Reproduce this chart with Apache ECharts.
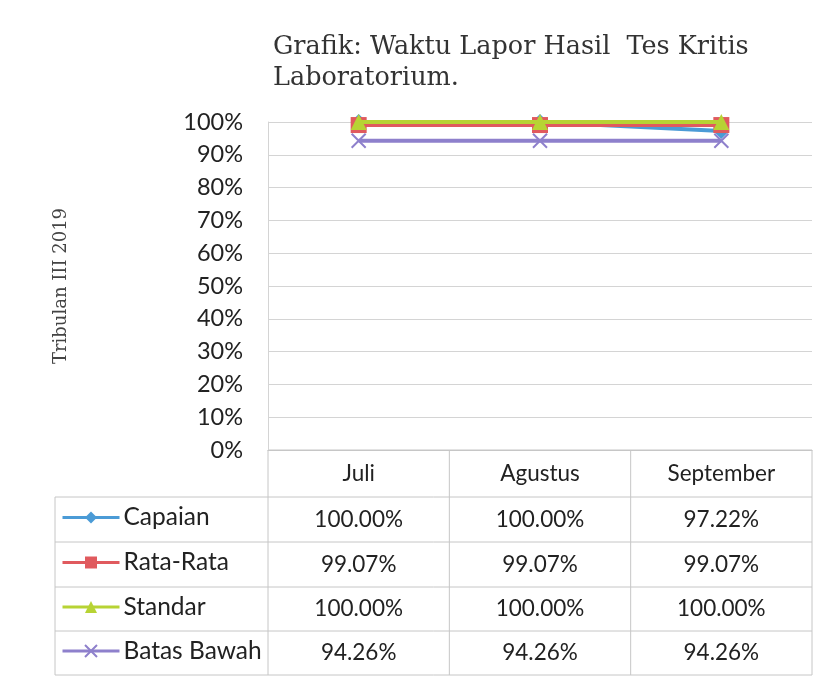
<!DOCTYPE html>
<html>
<head>
<meta charset="utf-8">
<script src="https://cdn.jsdelivr.net/npm/echarts@6/dist/echarts.min.js"></script>
<style>
html,body{margin:0;padding:0;background:#fff;}
#chart{width:829px;height:687px;}
</style>
</head>
<body>
<div id="chart"></div>
<script>
const categories = ['Juli', 'Agustus', 'September'];
const seriesNames = ['Capaian', 'Rata-Rata', 'Standar', 'Batas Bawah'];
const capaian = [100, 100, 97.22];
const rataRata = [99.07, 99.07, 99.07];
const standar = [100, 100, 100];
const batasBawah = [94.26, 94.26, 94.26];
const yMin = 0, yMax = 100, yInterval = 10;
const titleText = 'Grafik: Waktu Lapor Hasil  Tes Kritis\nLaboratorium.';
const yAxisName = 'Tribulan III 2019';

const colors = ['#4b9bd6', '#e05a5e', '#b7d334', '#8e80cc'];
const L = 268, R = 812, T = 122, B = 450;
const rowEdges = [450, 497, 542, 587, 631, 675];
const tableLeft = 55;
const font = 'Lato, "Open Sans", sans-serif';
const lineColor = '#c6c6c6';
const fs = 22.5;

const chart = echarts.init(document.getElementById('chart'));
const allData = [capaian, rataRata, standar, batasBawah];
const symbols = ['diamond', 'rect', 'triangle', 'path://M0,0L10,10M10,0L0,10'];

chart.setOption({
  animation: false,
  backgroundColor: '#fff',
  title: {
    text: titleText,
    left: 268, top: 27,
    textStyle: { fontFamily: '"DejaVu Serif", serif', fontSize: 25.5, fontWeight: 'normal', color: '#333', lineHeight: 31 }
  },
  legend: seriesNames.map((n, r) => ({
    orient: 'vertical',
    padding: 0,
    left: 61, top: (rowEdges[r + 1] + rowEdges[r + 2]) / 2 - 16.5,
    itemWidth: 57, itemHeight: 15,
    data: [n],
    lineStyle: { width: 3 },
    textStyle: { fontFamily: font, fontSize: 24.5, color: '#222', lineHeight: 29, padding: [0, 0, 0, -1] }
  })),
  grid: { left: L, right: 829 - R, top: T, bottom: 687 - B },
  xAxis: {
    type: 'category',
    data: categories,
    boundaryGap: true,
    axisLine: { show: true, lineStyle: { color: lineColor } },
    axisTick: { show: false },
    axisLabel: { margin: 12, fontFamily: font, fontSize: fs, color: '#222' }
  },
  yAxis: {
    type: 'value',
    min: yMin, max: yMax, interval: yInterval,
    name: yAxisName,
    nameLocation: 'middle',
    nameRotate: 90,
    nameGap: 198,
    nameTextStyle: { fontFamily: '"DejaVu Serif", serif', fontSize: 18, color: '#444' },
    axisLine: { show: true, lineStyle: { color: '#d4d4d4' } },
    axisTick: { show: false },
    axisLabel: { formatter: '{value}%', margin: 25, fontFamily: font, fontSize: 23.5, color: '#222' },
    splitLine: { show: true, lineStyle: { color: '#d4d4d4', width: 1 } }
  },
  series: seriesNames.map((n, i) => ({
    name: n,
    type: 'line',
    data: allData[i],
    symbol: symbols[i],
    symbolSize: i === 3 ? 14 : 16,
    lineStyle: { color: colors[i], width: 4 },
    itemStyle: { color: colors[i], borderColor: colors[i], borderWidth: i === 3 ? 2 : 0 },
    z: 2 + i
  }))
});

const graphics = [];
rowEdges.forEach((y, k) => {
  graphics.push({ type: 'line', shape: { x1: k === 0 ? L : tableLeft, y1: y, x2: R, y2: y }, style: { stroke: lineColor, lineWidth: 1 }, silent: true });
});
for (let i = 0; i <= categories.length; i++) {
  const x = L + i * (R - L) / categories.length;
  graphics.push({ type: 'line', shape: { x1: x, y1: rowEdges[0], x2: x, y2: rowEdges[rowEdges.length - 1] }, style: { stroke: lineColor, lineWidth: 1 }, silent: true });
}
graphics.push({ type: 'line', shape: { x1: tableLeft, y1: rowEdges[1], x2: tableLeft, y2: rowEdges[rowEdges.length - 1] }, style: { stroke: lineColor, lineWidth: 1 }, silent: true });

allData.forEach((arr, r) => {
  const yc = (rowEdges[r + 1] + rowEdges[r + 2]) / 2;
  arr.forEach((v, j) => {
    const x = chart.convertToPixel({ xAxisIndex: 0 }, categories[j]);
    graphics.push({
      type: 'text',
      x: x, y: yc,
      style: { text: v.toFixed(2) + '%', fontFamily: font, fontSize: fs, fill: '#222', textAlign: 'center', textVerticalAlign: 'middle' },
      silent: true
    });
  });
});

chart.setOption({ graphic: graphics });
</script>
</body>
</html>
